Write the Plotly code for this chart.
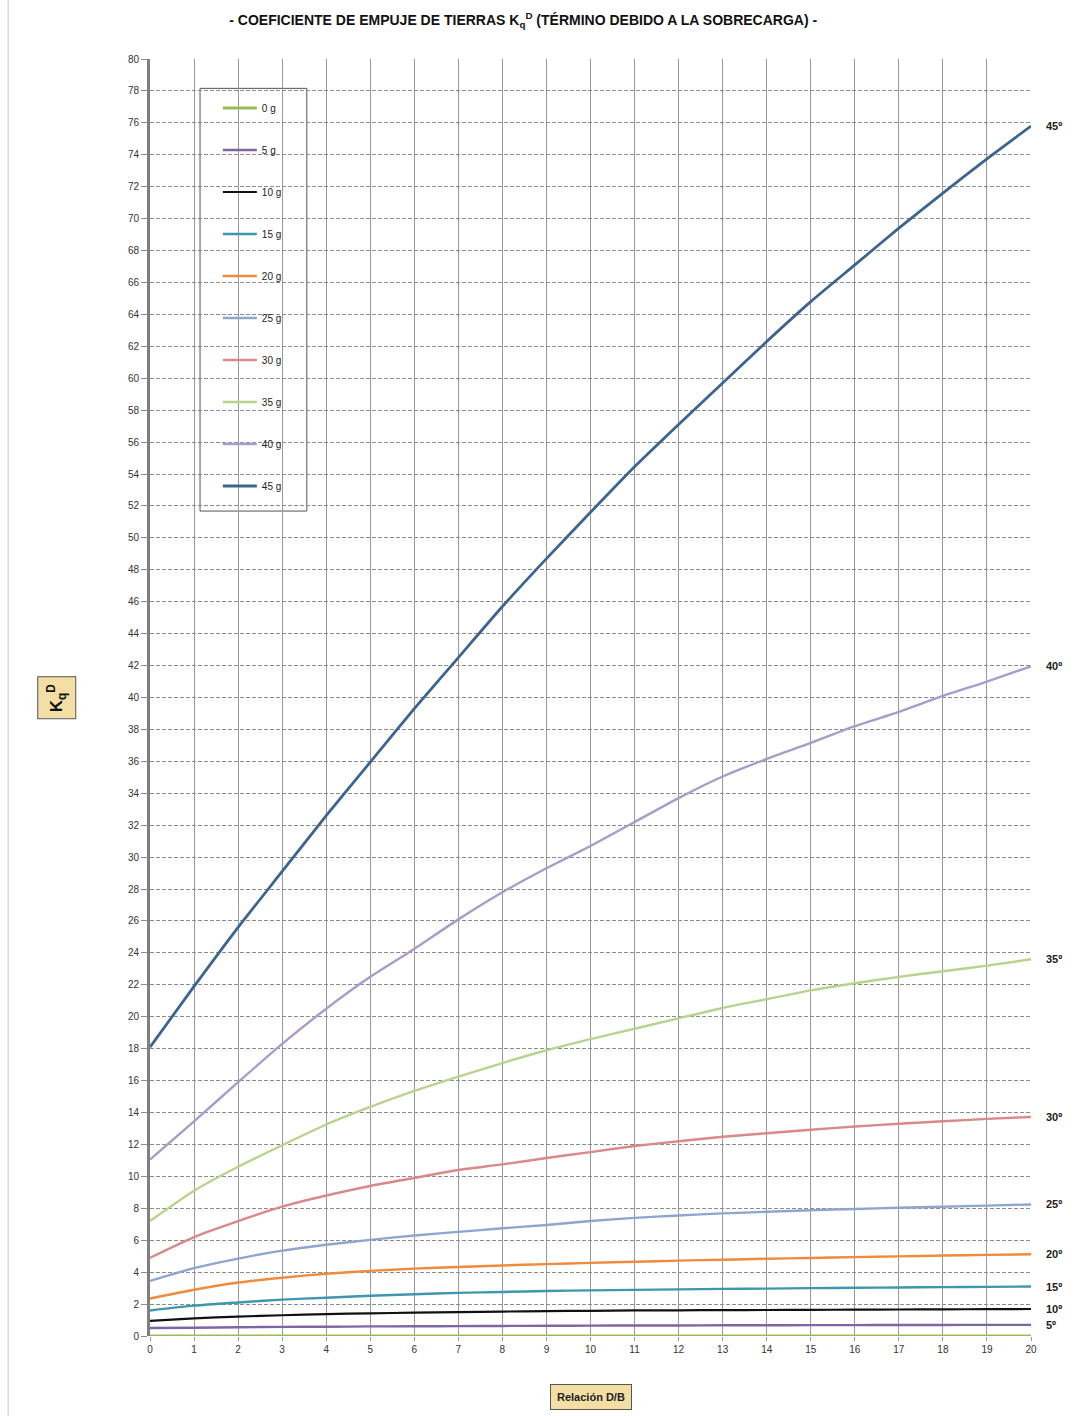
import plotly.graph_objects as go

# Relación D/B (eje horizontal)
relacion_db = list(range(0, 21))

# Coeficiente Kq^D para cada ángulo de rozamiento
kq_0 = [0.0] * 21
kq_5 = [0.50, 0.52, 0.55, 0.57, 0.58, 0.60, 0.61, 0.62, 0.63, 0.64, 0.65,
        0.66, 0.66, 0.67, 0.67, 0.68, 0.68, 0.69, 0.69, 0.70, 0.70]
kq_10 = [0.95, 1.10, 1.22, 1.30, 1.37, 1.42, 1.46, 1.50, 1.53, 1.56, 1.58,
         1.60, 1.61, 1.62, 1.63, 1.64, 1.65, 1.66, 1.67, 1.68, 1.69]
kq_15 = [1.60, 1.90, 2.10, 2.28, 2.40, 2.52, 2.62, 2.70, 2.76, 2.82, 2.86,
         2.89, 2.92, 2.95, 2.97, 3.00, 3.02, 3.04, 3.06, 3.08, 3.10]
kq_20 = [2.35, 2.90, 3.35, 3.65, 3.90, 4.08, 4.22, 4.32, 4.42, 4.50, 4.58,
         4.65, 4.72, 4.78, 4.84, 4.89, 4.94, 4.99, 5.04, 5.08, 5.12]
kq_25 = [3.45, 4.25, 4.85, 5.35, 5.72, 6.02, 6.30, 6.52, 6.75, 6.95, 7.20,
         7.40, 7.55, 7.68, 7.78, 7.88, 7.96, 8.03, 8.10, 8.17, 8.24]
kq_30 = [4.90, 6.20, 7.20, 8.10, 8.80, 9.40, 9.90, 10.40, 10.75, 11.15, 11.52,
         11.90, 12.20, 12.48, 12.70, 12.92, 13.12, 13.30, 13.45, 13.60, 13.72]
kq_35 = [7.20, 9.10, 10.60, 11.95, 13.25, 14.35, 15.35, 16.25, 17.10, 17.90, 18.60,
         19.25, 19.90, 20.55, 21.10, 21.65, 22.10, 22.50, 22.85, 23.20, 23.60]
kq_40 = [11.05, 13.45, 15.90, 18.30, 20.50, 22.50, 24.25, 26.10, 27.80, 29.30, 30.70,
         32.20, 33.70, 35.05, 36.15, 37.15, 38.20, 39.10, 40.10, 41.00, 41.95]
kq_45 = [18.10, 21.90, 25.60, 29.10, 32.60, 35.95, 39.30, 42.50, 45.70, 48.70, 51.60,
         54.45, 57.10, 59.70, 62.30, 64.80, 67.10, 69.40, 71.60, 73.75, 75.80]

series_kq = [kq_0, kq_5, kq_10, kq_15, kq_20, kq_25, kq_30, kq_35, kq_40, kq_45]
leyenda = ["0 g", "5 g", "10 g", "15 g", "20 g", "25 g", "30 g", "35 g", "40 g", "45 g"]
etiquetas_angulo = ["5º", "10º", "15º", "20º", "25º", "30º", "35º", "40º", "45º"]

y_ticks = list(range(0, 81, 2))
x_ticks = list(range(0, 21))

colores = ["#9BBB59", "#7E66A3", "#111111", "#3E97AE", "#F08A3C",
           "#8EA6CF", "#D9898A", "#B9D38F", "#A99CC8", "#3D6490"]
grosores = [3.2, 2.4, 2.2, 2.4, 2.4, 2.4, 2.4, 2.4, 2.4, 2.8]

fig = go.Figure()
for i, (vals, nombre) in enumerate(zip(series_kq, leyenda)):
    fig.add_trace(go.Scatter(
        x=relacion_db, y=vals, mode="lines", name=nombre,
        legendgroup=nombre,
        line=dict(color=colores[i], width=grosores[i], shape="spline", smoothing=0.6),
        hoverinfo="skip",
    ))

# Etiquetas de ángulo al final de cada curva
for etiqueta, vals in zip(etiquetas_angulo, series_kq[1:]):
    fig.add_annotation(
        x=relacion_db[-1], y=vals[-1], xref="x", yref="y",
        text="<b>" + etiqueta + "</b>", showarrow=False, xanchor="left", yanchor="middle",
        xshift=13, font=dict(family="Liberation Sans", size=11, color="#222222"),
    )

# Rótulo del eje vertical
fig.add_annotation(
    x=-0.128, y=0.5, xref="paper", yref="paper",
    text="<b>K<sub>q</sub><sup>D</sup></b>", textangle=-90, showarrow=False,
    font=dict(family="Liberation Sans", size=17, color="#111111"),
    bgcolor="#F3DFA6", bordercolor="#555555", borderwidth=1, borderpad=6,
)

# Rótulo del eje horizontal
fig.add_annotation(
    x=0.5006, y=-0.0475, xref="paper", yref="paper", yanchor="middle",
    text="<b>Relación D/B</b>", showarrow=False,
    font=dict(family="Liberation Sans", size=11, color="#222222"),
    bgcolor="#F3DFA6", bordercolor="#555555", borderwidth=1, borderpad=6,
)

# Marco blanco de la leyenda (sobre la rejilla, bajo las curvas)
fig.add_shape(type="rect", xref="paper", yref="paper",
              x0=0.0568, x1=0.178, y0=0.646, y1=0.977,
              fillcolor="white", line=dict(color="#555555", width=1),
              layer="between")

# Línea de borde a la izquierda de la página
fig.add_shape(type="line", xref="paper", yref="paper",
              x0=-0.161, x1=-0.161, y0=-0.07, y1=1.05,
              line=dict(color="#C8C8C8", width=1))

fig.update_layout(
    width=1081, height=1416,
    margin=dict(l=150, r=50, t=59, b=80),
    paper_bgcolor="white", plot_bgcolor="white",
    title=dict(
        text="<b>- COEFICIENTE DE EMPUJE DE TIERRAS K<sub>q</sub><sup>D</sup> (TÉRMINO DEBIDO A LA SOBRECARGA) -</b>",
        x=0.484, xanchor="center", y=0.986, yanchor="middle",
        font=dict(family="Liberation Sans", size=14, color="#111111"),
    ),
    showlegend=True,
    legend=dict(
        x=0.077, y=0.973, xanchor="left", yanchor="top",
        bgcolor="rgba(0,0,0,0)", borderwidth=0,
        font=dict(family="Liberation Sans", size=10, color="#222222"),
        tracegroupgap=23, itemwidth=34,
    ),
    xaxis=dict(
        range=[0, 20], tickvals=x_ticks, ticktext=[str(v) for v in x_ticks],
        showgrid=True, gridcolor="#9A9A9A", gridwidth=1,
        zeroline=False, showline=False,
        ticks="outside", ticklen=4, tickcolor="#9A9A9A",
        tickfont=dict(family="Liberation Sans", size=10, color="#333333"),
    ),
    yaxis=dict(
        range=[0, 80], tickvals=y_ticks, ticktext=[str(v) for v in y_ticks],
        showgrid=True, gridcolor="#8C8C8C", gridwidth=1, griddash="4px,2px",
        zeroline=False, showline=True, linecolor="#7F7F7F", linewidth=3,
        ticks="outside", ticklen=6, tickcolor="#8C8C8C",
        tickfont=dict(family="Liberation Sans", size=10, color="#333333"),
    ),
)

fig.write_html("out.html")
